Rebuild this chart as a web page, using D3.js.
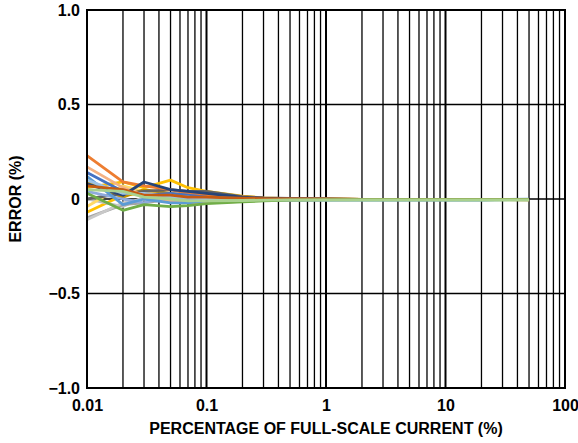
<!DOCTYPE html>
<html>
<head>
<meta charset="utf-8">
<script src="https://d3js.org/d3.v7.min.js"></script>
<style>
  body { margin: 0; background: #fff; }
  svg { display: block; }
  text { font-family: "Liberation Sans", Arial, sans-serif; font-weight: bold; fill: #000; }
</style>
</head>
<body>
<svg id="chart" width="578" height="443"></svg>
<script>
// percentage of full-scale current where the error was measured
var currents = [0.01, 0.02, 0.03, 0.05, 0.07, 0.1, 0.2, 0.3, 0.5, 1, 2, 5, 10, 20, 50];

// error (%) per device
var errOrange    = [0.23, 0.09, 0.07, 0.05, 0.03, 0.02, 0.01, 0.005, 0.002, 0.000, -0.002, -0.003, -0.003, -0.003, -0.004];
var errPeach     = [0.17, 0.06, 0.02, -0.01, -0.02, -0.02, -0.012, -0.006, -0.004, -0.003, -0.003, -0.003, -0.003, -0.003, -0.003];
var errBlue      = [0.14, 0.04, 0.02, 0.03, 0.02, 0.01, 0.002, -0.002, -0.003, -0.003, -0.003, -0.003, -0.003, -0.003, -0.002];
var errDarkBlue  = [0.08, 0.02, 0.09, 0.05, 0.04, 0.03, 0.01, 0.004, 0.001, -0.001, -0.002, -0.003, -0.003, -0.003, -0.003];
var errYellow    = [0.06, 0.09, 0.06, 0.10, 0.06, 0.04, 0.015, 0.006, 0.002, 0.000, -0.002, -0.003, -0.003, -0.003, -0.003];
var errYellow2   = [-0.07, 0.02, 0.03, 0.01, 0.0, 0.005, 0.004, 0.002, 0.0, -0.001, -0.002, -0.003, -0.003, -0.003, -0.003];
var errGray      = [-0.10, -0.03, -0.02, 0.0, 0.01, 0.01, 0.003, 0.0, -0.002, -0.003, -0.003, -0.003, -0.003, -0.003, -0.003];
var errLightGray = [-0.11, -0.02, 0.0, -0.01, 0.0, 0.0, -0.003, -0.004, -0.004, -0.004, -0.003, -0.003, -0.003, -0.003, -0.003];
var errGreen     = [0.03, -0.06, -0.03, -0.04, -0.035, -0.025, -0.015, -0.01, -0.006, -0.005, -0.004, -0.004, -0.004, -0.004, -0.004];
var errLightBlue = [0.12, -0.03, 0.0, -0.02, -0.02, -0.01, -0.01, -0.006, -0.005, -0.004, -0.004, -0.004, -0.004, -0.004, -0.001];
var errDarkGray  = [0.0, 0.03, 0.04, 0.05, 0.04, 0.04, 0.012, 0.006, 0.003, 0.0, -0.002, -0.003, -0.003, -0.003, -0.003];
var errLtGreen   = [0.05, 0.04, 0.01, 0.0, -0.01, -0.01, -0.008, -0.006, -0.005, -0.005, -0.005, -0.005, -0.005, -0.005, -0.005];
var errPaleBlue  = [0.10, 0.03, 0.03, 0.01, 0.01, 0.0, -0.005, -0.004, -0.004, -0.004, -0.004, -0.004, -0.004, -0.004, -0.002];
var errRust      = [0.07, 0.05, 0.02, 0.02, 0.01, 0.01, 0.004, 0.002, 0.0, -0.002, -0.002, -0.002, -0.002, -0.002, -0.002];
var errSteel     = [0.04, 0.0, -0.02, 0.02, 0.0, 0.0, -0.006, -0.005, -0.004, -0.004, -0.004, -0.004, -0.004, -0.004, -0.003];
var errOlive     = [0.09, 0.01, 0.05, 0.03, 0.02, 0.02, 0.006, 0.003, 0.001, -0.001, -0.002, -0.003, -0.003, -0.003, -0.003];
var errSilver    = [0.0, -0.04, 0.01, -0.01, 0.0, 0.0, -0.004, -0.003, -0.003, -0.003, -0.003, -0.003, -0.003, -0.003, -0.003];
var errGold      = [-0.04, 0.07, 0.04, 0.02, 0.01, 0.02, 0.008, 0.003, 0.001, -0.001, -0.002, -0.003, -0.003, -0.003, -0.003];

// drawing order, back to front
var seriesData = [errYellow2, errSilver, errGold, errOlive, errYellow, errDarkGray, errGray, errLightGray,
                  errPeach, errOrange, errDarkBlue, errBlue, errSteel, errLightBlue, errPaleBlue,
                  errRust, errGreen, errLtGreen];
var seriesColors = ["#FFC000", "#BFBFBF", "#FFD966", "#BF9000", "#FFC000", "#636363", "#A5A5A5", "#C9C9C9",
                    "#F4B183", "#ED7D31", "#264478", "#4472C4", "#8FAADC", "#5B9BD5", "#9DC3E6",
                    "#C55A11", "#70AD47", "#A9D18E"];

var yTicks = [-1.0, -0.5, 0, 0.5, 1.0];
var xTickLabels = [0.01, 0.1, 1, 10, 100];

var margin = {left: 87, right: 13, top: 10, bottom: 55};
var width = 578, height = 443;

var svg = d3.select("#chart");

var x = d3.scaleLog().domain([0.01, 100]).range([margin.left, width - margin.right]);
var y = d3.scaleLinear().domain([-1, 1]).range([height - margin.bottom, margin.top]);

// vertical grid, 1..9 per decade
var grid = svg.append("g");
x.ticks().forEach(function (t) {
  var lead = Math.abs(Math.log10(t) - Math.round(Math.log10(t))) < 1e-9;
  grid.append("line")
    .attr("x1", x(t)).attr("x2", x(t))
    .attr("y1", y(1)).attr("y2", y(-1))
    .attr("stroke", "#000")
    .attr("stroke-width", lead ? 2 : 1.3);
});
yTicks.forEach(function (t) {
  grid.append("line")
    .attr("x1", x(0.01)).attr("x2", x(100))
    .attr("y1", y(t)).attr("y2", y(t))
    .attr("stroke", "#000")
    .attr("stroke-width", 1.3);
});

// the curves
var line = d3.line()
  .x(function (d, i) { return x(currents[i]); })
  .y(function (d) { return y(d); });

svg.append("g").selectAll("path")
  .data(seriesData)
  .join("path")
  .attr("d", line)
  .attr("fill", "none")
  .attr("stroke", function (d, i) { return seriesColors[i]; })
  .attr("stroke-width", 2.8)
  .attr("stroke-linejoin", "round");

// frame
svg.append("rect")
  .attr("x", x(0.01)).attr("y", y(1))
  .attr("width", x(100) - x(0.01)).attr("height", y(-1) - y(1))
  .attr("fill", "none").attr("stroke", "#000").attr("stroke-width", 2);

// axes
var yAxis = svg.append("g")
  .attr("transform", "translate(" + margin.left + ",0)")
  .call(d3.axisLeft(y).tickValues(yTicks).tickSize(0).tickPadding(7)
    .tickFormat(function (d) { return d === 0 ? "0" : d3.format(".1f")(d).replace("-", "\u2013"); }));
yAxis.select(".domain").remove();
yAxis.selectAll("text").style("font-size", "16px");

var xAxis = svg.append("g")
  .attr("transform", "translate(0," + (height - margin.bottom) + ")")
  .call(d3.axisBottom(x).tickValues(xTickLabels).tickSize(0).tickPadding(12)
    .tickFormat(function (d) { return String(d); }));
xAxis.select(".domain").remove();
xAxis.selectAll("text").style("font-size", "16px");

svg.append("text")
  .attr("x", (x(0.01) + x(100)) / 2)
  .attr("y", 434)
  .attr("text-anchor", "middle")
  .style("font-size", "16px")
  .text("PERCENTAGE OF FULL-SCALE CURRENT (%)");

svg.append("text")
  .attr("transform", "translate(21," + y(0) + ") rotate(-90)")
  .attr("text-anchor", "middle")
  .style("font-size", "16px")
  .text("ERROR (%)");
</script>
</body>
</html>
